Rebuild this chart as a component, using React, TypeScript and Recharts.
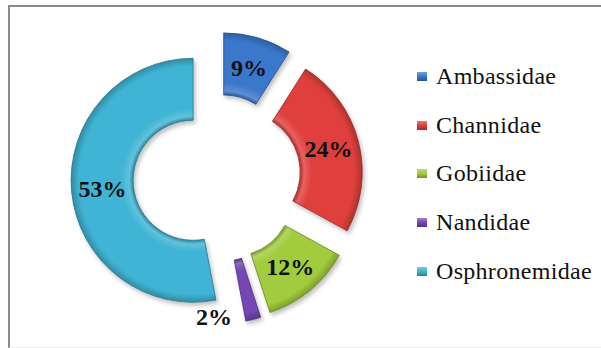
import { PieChart, Pie, Cell, Legend } from 'recharts'

const families = ['Ambassidae', 'Channidae', 'Gobiidae', 'Nandidae', 'Osphronemidae']
const shares = [9, 24, 12, 2, 53]
const colors = ['#3a78cc', '#e0403c', '#a2cc3c', '#7446b4', '#3fb4d4']

const data = families.map((name, i) => ({ name, value: shares[i] }))

const W = 601
const H = 348
const CX = 217
const CY = 178
const R_OUT = 122
const R_IN = 60
const EXPLODE = 24
const SERIF = '"Liberation Serif", "Times New Roman", serif'

// exploded offset for every slice, from its mid angle (clockwise from 12 o'clock)
const total = shares.reduce((a, b) => a + b, 0)
const offsets = shares.map((v, i) => {
  const before = shares.slice(0, i).reduce((a, b) => a + b, 0)
  const mid = ((before + v / 2) / total) * 2 * Math.PI
  return { dx: EXPLODE * Math.sin(mid), dy: -EXPLODE * Math.cos(mid) }
})

function mix(hex: string, target: number, t: number) {
  const n = parseInt(hex.slice(1), 16)
  const ch = [(n >> 16) & 255, (n >> 8) & 255, n & 255].map(c => Math.round(c + (target - c) * t))
  return '#' + ch.map(c => c.toString(16).padStart(2, '0')).join('')
}

const RAD = Math.PI / 180

const makeLabel = (slice: number) => (p: any) => {
  if (p.index !== slice) return null
  const small = p.percent < 0.05
  const ang = small ? p.midAngle - 18.8 : p.midAngle
  const rad = small ? p.outerRadius - 6 : (p.innerRadius + p.outerRadius) / 2
  const x = p.cx + rad * Math.cos(-ang * RAD)
  const y = p.cy + rad * Math.sin(-ang * RAD)
  return (
    <text x={x} y={y} textAnchor="middle" dominantBaseline="central"
      style={{ fontFamily: SERIF, fontWeight: 700, fontSize: 24, fill: '#111' }}>
      {shares[slice]}%
    </text>
  )
}

const renderLegend = () => (
  <div style={{ fontFamily: SERIF, fontSize: 24, color: '#111' }}>
    {families.map((f, i) => (
      <div key={f} style={{ display: 'flex', alignItems: 'center', height: 48.7 }}>
        <span style={{
          width: 10, height: 9, marginRight: 9, flexShrink: 0,
          background: `linear-gradient(180deg, ${mix(colors[i], 255, 0.3)}, ${colors[i]} 50%, ${mix(colors[i], 0, 0.3)})`,
        }} />
        <span style={{ letterSpacing: 0.3 }}>{f}</span>
      </div>
    ))}
  </div>
)

export default function App() {
  return (
    <div style={{ position: 'absolute', left: 0, top: 0, width: W, height: H, background: '#fff', overflow: 'hidden' }}>
      <div style={{
        position: 'absolute', left: 8, top: 5, width: W, height: 340,
        borderTop: '2px solid #8a8a8a', borderLeft: '2px solid #8a8a8a', borderBottom: '1px solid #ececec',
      }} />
      <div style={{ position: 'absolute', left: 0, top: 0 }}>
        <PieChart width={W} height={H} margin={{ top: 0, right: 0, bottom: 0, left: 0 }}>
          <defs>
            <filter id="shadow" x="-20%" y="-20%" width="140%" height="140%">
              <feDropShadow dx="2" dy="3" stdDeviation="2" floodColor="#000" floodOpacity="0.25" />
            </filter>
            {colors.map((c, i) => (
              <radialGradient key={i} id={`bevel${i}`} gradientUnits="userSpaceOnUse"
                cx={CX + offsets[i].dx} cy={CY + offsets[i].dy} r={R_OUT}>
                <stop offset={R_IN / R_OUT} stopColor={mix(c, 0, 0.25)} />
                <stop offset={(R_IN + 4) / R_OUT} stopColor={mix(c, 255, 0.18)} />
                <stop offset={(R_IN + 12) / R_OUT} stopColor={c} />
                <stop offset={(R_OUT - 8) / R_OUT} stopColor={c} />
                <stop offset={1} stopColor={mix(c, 0, 0.22)} />
              </radialGradient>
            ))}
          </defs>
          {families.map((f, s) => (
            <Pie key={f} data={data} dataKey="value" nameKey="name"
              cx={CX + offsets[s].dx} cy={CY + offsets[s].dy}
              innerRadius={R_IN} outerRadius={R_OUT} startAngle={90} endAngle={-270}
              stroke="none" labelLine={false} label={makeLabel(s)} isAnimationActive={false}>
              {data.map((d, i) => (
                <Cell key={d.name}
                  fill={i === s ? `url(#bevel${i})` : 'transparent'}
                  stroke={i === s ? mix(colors[i], 0, 0.35) : 'none'}
                  strokeWidth={i === s ? 0.8 : 0}
                  filter={i === s ? 'url(#shadow)' : undefined} />
              ))}
            </Pie>
          ))}
          <Legend layout="vertical" align="right" verticalAlign="top" content={renderLegend}
            wrapperStyle={{ left: 417, top: 52, right: 'auto', width: 184 }} />
        </PieChart>
      </div>
    </div>
  )
}
